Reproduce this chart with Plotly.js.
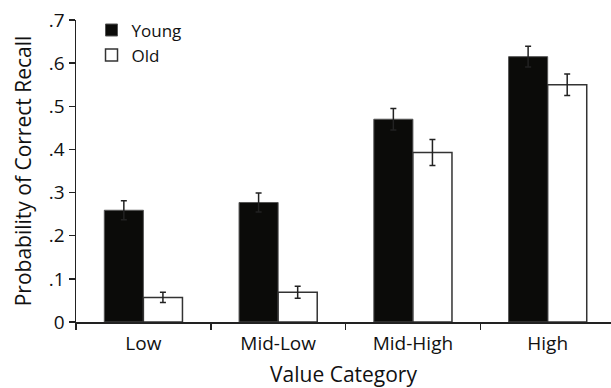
<!DOCTYPE html>
<html>
<head>
<meta charset="utf-8">
<script src="https://cdn.plot.ly/plotly-3.0.1.min.js"></script>
<style>html,body{margin:0;padding:0;background:#fff;}#chart{width:611px;height:388px;}</style>
</head>
<body>
<div id="chart"></div>
<script>
var categories = ["Low", "Mid-Low", "Mid-High", "High"];
var youngValues = [0.259, 0.277, 0.470, 0.615];
var youngErrors = [0.022, 0.022, 0.025, 0.024];
var oldValues = [0.057, 0.069, 0.393, 0.550];
var oldErrors = [0.012, 0.014, 0.030, 0.025];
var yTickValues = [0, 0.1, 0.2, 0.3, 0.4, 0.5, 0.6, 0.7];
var yTickLabels = ["0", ".1", ".2", ".3", ".4", ".5", ".6", ".7"];

var FONT = "Open Sans, Noto Sans, sans-serif";

var traces = [
  {
    type: "bar", name: "Young", x: categories, y: youngValues,
    marker: {color: "#0b0b09", line: {color: "#555", width: 1}},
    error_y: {type: "data", array: youngErrors, visible: true, color: "#222", thickness: 1.5, width: 3}
  },
  {
    type: "bar", name: "Old", x: categories, y: oldValues,
    marker: {color: "#ffffff", line: {color: "#333", width: 1.5}},
    error_y: {type: "data", array: oldErrors, visible: true, color: "#222", thickness: 1.5, width: 3}
  }
];

var layout = {
  width: 611, height: 388,
  margin: {l: 76, r: 0, t: 20, b: 66, pad: 0},
  paper_bgcolor: "#fff", plot_bgcolor: "#fff",
  font: {family: FONT, color: "#111", size: 19},
  barmode: "group", bargap: 0.42, bargroupgap: 0,
  showlegend: true,
  legend: {
    x: 0.029, y: 1.025, xanchor: "left", yanchor: "top",
    font: {family: FONT, size: 17, color: "#111"},
    bgcolor: "rgba(0,0,0,0)", tracegroupgap: 0, itemwidth: 30
  },
  xaxis: {
    range: [-0.5, 3.47], type: "category",
    showline: true, linecolor: "#222", linewidth: 1.5,
    ticks: "outside", tickson: "boundaries", ticklen: 6, tickwidth: 1.5, tickcolor: "#222",
    ticklabelstandoff: 4,
    showgrid: false, zeroline: false,
    tickfont: {family: FONT, size: 19, color: "#111"},
    title: {text: "Value Category", font: {family: FONT, size: 21, color: "#111"}, standoff: 16}
  },
  yaxis: {
    range: [0, 0.7],
    showline: true, linecolor: "#222", linewidth: 1.5,
    ticks: "outside", ticklen: 6, tickwidth: 1.5, tickcolor: "#222",
    tickvals: yTickValues, ticktext: yTickLabels,
    showgrid: false, zeroline: false,
    tickfont: {family: FONT, size: 19, color: "#111"},
    title: {text: "Probability of Correct Recall", font: {family: FONT, size: 21, color: "#111"}, standoff: 11}
  }
};

Plotly.newPlot("chart", traces, layout, {displayModeBar: false, staticPlot: true});
</script>
</body>
</html>
